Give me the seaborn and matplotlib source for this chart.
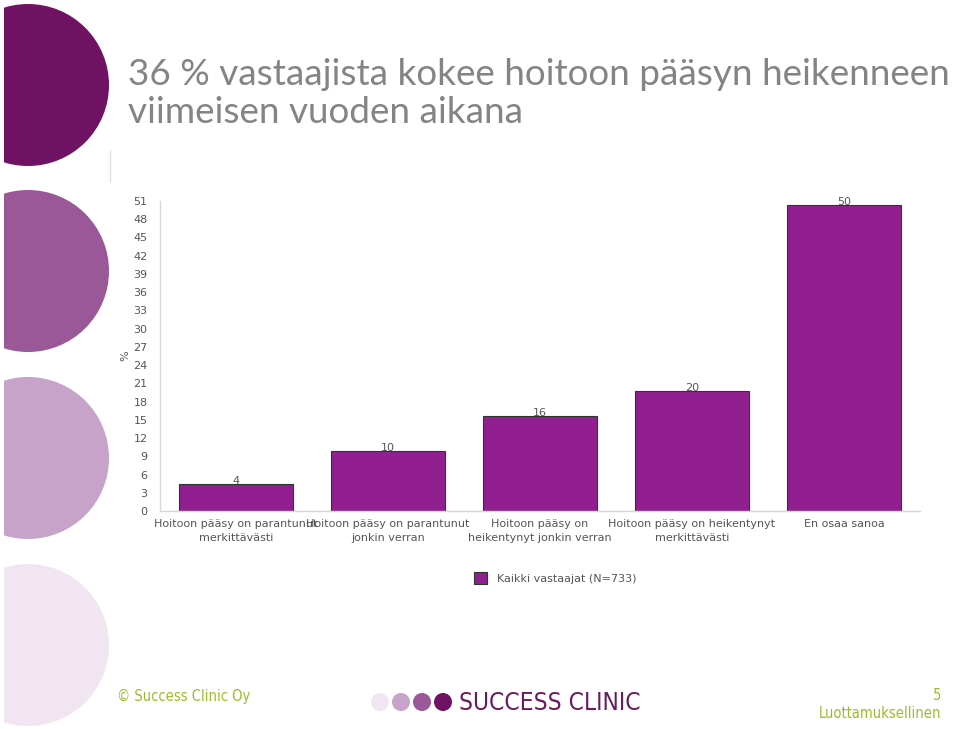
import matplotlib
matplotlib.use("Agg")
import matplotlib.pyplot as plt
from matplotlib.patches import Circle, Rectangle
import seaborn as sns
import pandas as pd

categories = [
    "Hoitoon pääsy on parantunut\nmerkittävästi",
    "Hoitoon pääsy on parantunut\njonkin verran",
    "Hoitoon pääsy on\nheikentynyt jonkin verran",
    "Hoitoon pääsy on heikentynyt\nmerkittävästi",
    "En osaa sanoa",
]
values = [4.4, 9.9, 15.6, 19.7, 50.3]
value_labels = ["4", "10", "16", "20", "50"]
yticks = list(range(0, 52, 3))
series_name = "Kaikki vastaajat (N=733)"
title = "36 % vastaajista kokee hoitoon pääsyn heikenneen\nviimeisen vuoden aikana"

df = pd.DataFrame({"cat": categories, "val": values, "series": series_name})

sns.set_theme(style="white")
plt.rcParams["font.family"] = ["DejaVu Sans"]

W, H = 960, 729
fig = plt.figure(figsize=(W / 100, H / 100), dpi=100)

# background decorations
bg = fig.add_axes([0, 0, 1, 1], zorder=0)
bg.set_xlim(0, W)
bg.set_ylim(H, 0)
bg.axis("off")
for cy, col in [(85, "#6f1264"), (271, "#9a5898"), (458, "#c7a2c9"), (645, "#f1e5f1")]:
    bg.add_patch(Circle((28, cy), 81, color=col, lw=0))
bg.add_patch(Rectangle((0, 0), 4, H, color="white", lw=0))
bg.plot([110, 110], [150, 182], color="#e0e0e0", lw=1)

fig.text(128 / W, 1 - 58 / H, title, ha="left", va="top", fontsize=26.6,
         color="#848484", family="Lato", linespacing=1.2)

ax = fig.add_axes([160 / W, 1 - 511 / H, 760 / W, 310 / H], zorder=1)
sns.barplot(data=df, x="cat", y="val", hue="series", palette=["#921f8f"],
            saturation=1, width=0.75, edgecolor="#333333", linewidth=0.8,
            ax=ax, legend=True)
ax.set_ylim(0, 51)
ax.set_xlim(-0.5, 4.5)
ax.set_yticks(yticks)
ax.set_yticklabels([str(t) for t in yticks], fontsize=8, color="#555555")
ax.tick_params(axis="x", labelsize=8, labelcolor="#555555", length=0, pad=6)
for t in ax.get_xticklabels():
    t.set_linespacing(1.4)
ax.tick_params(axis="y", length=0, pad=9)
ax.set_xlabel("")
ax.set_ylabel("%", fontsize=8, color="#555555", labelpad=2)
for s in ["top", "right"]:
    ax.spines[s].set_visible(False)
for s in ["left", "bottom"]:
    ax.spines[s].set_color("#d8d8d8")
    ax.spines[s].set_linewidth(1)

for i, (v, lab) in enumerate(zip(values, value_labels)):
    ax.text(i, v - 0.3, lab, ha="center", va="bottom", fontsize=8, color="#555555")

leg = ax.legend(loc="upper center", bbox_to_anchor=(0.52, -0.165), frameon=False,
                fontsize=8, handlelength=1.2, handleheight=1.2, handletextpad=0.9)
for t in leg.get_texts():
    t.set_color("#555555")

# footer
green = "#9dbb2c"
foot = dict(family="DejaVu Sans", stretch="condensed")
fig.text(117 / W, 1 - 696 / H, "© Success Clinic Oy", ha="left", va="center",
         fontsize=10.5, color=green, **foot)
for x, col in [(380, "#f1e5f1"), (401, "#c7a2c9"), (422, "#9a5898"), (443, "#6f1264")]:
    bg.add_patch(Circle((x, 702), 9, color=col, lw=0))
fig.text(459 / W, 1 - 703 / H, "SUCCESS CLINIC", ha="left", va="center",
         fontsize=17.6, color="#6b1a60", **foot)
fig.text(941 / W, 1 - 695 / H, "5", ha="right", va="center", fontsize=10.5,
         color=green, **foot)
fig.text(941 / W, 1 - 713 / H, "Luottamuksellinen", ha="right", va="center",
         fontsize=10.5, color=green, **foot)

fig.savefig("out.png", dpi=100)
